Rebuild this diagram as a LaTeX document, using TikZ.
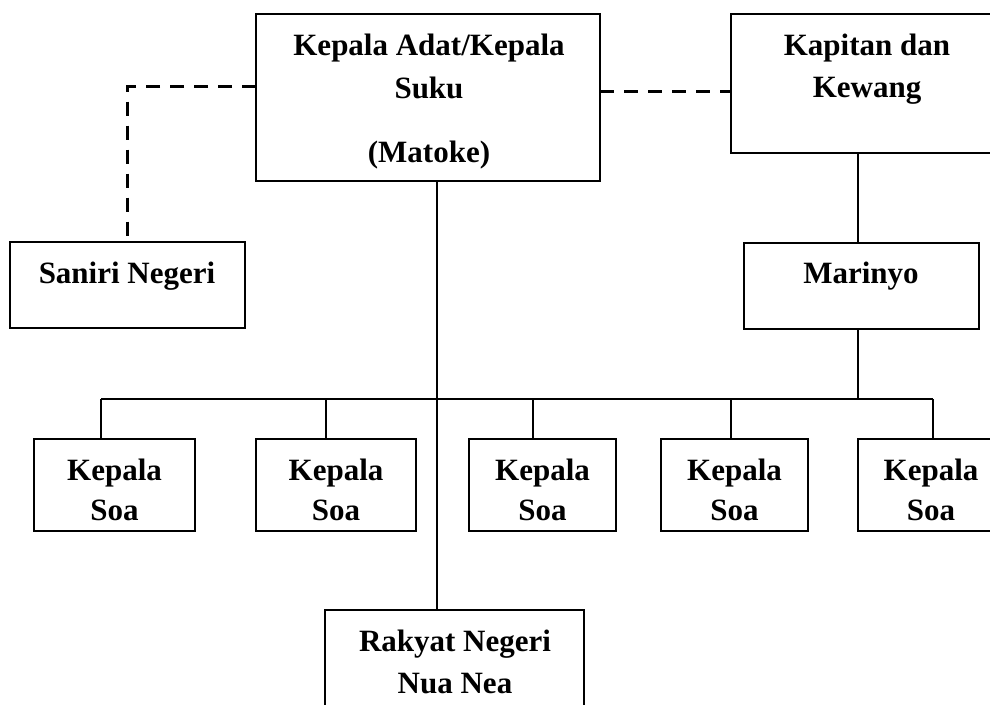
\documentclass[tikz,border=0pt]{standalone}
\usepackage{fontspec}
\setmainfont{Liberation Serif}
\begin{document}
\begin{tikzpicture}[x=1pt,y=-1pt,
  box/.style={draw,line width=1.8pt,inner sep=0pt,outer sep=0pt,anchor=north west},
  lbl/.style={anchor=base,inner sep=0pt,font=\fontsize{31}{40}\selectfont\bfseries},
  conn/.style={line width=1.6pt},
  dline/.style={line width=3pt,dash pattern=on 14pt off 10pt}]
\useasboundingbox (0,0) rectangle (990,704);
\clip (0,0) rectangle (990,704);
% boxes
\node[box,minimum width=344pt,minimum height=167pt] (adat) at (256,14) {};
\node[box,minimum width=272pt,minimum height=139pt] (kapitan) at (731,14) {};
\node[box,minimum width=235pt,minimum height=86pt] (saniri) at (10,242) {};
\node[box,minimum width=235pt,minimum height=86pt] (marinyo) at (744,243) {};
\node[box,minimum width=161pt,minimum height=92pt] (soa1) at (34,439) {};
\node[box,minimum width=160pt,minimum height=92pt] (soa2) at (256,439) {};
\node[box,minimum width=147pt,minimum height=92pt] (soa3) at (469,439) {};
\node[box,minimum width=147pt,minimum height=92pt] (soa4) at (661,439) {};
\node[box,minimum width=146pt,minimum height=92pt] (soa5) at (858,439) {};
\node[box,minimum width=259pt,minimum height=120pt] (rakyat) at (325,610) {};
% texts
\node[lbl] (t1) at (429,55) {Kepala Adat/Kepala};
\node[lbl] (t2) at (429,98) {Suku};
\node[lbl] (t3) at (429,162) {(Matoke)};
\node[lbl] (t4) at (867,55) {Kapitan dan};
\node[lbl] (t5) at (867,97) {Kewang};
\node[lbl] (t6) at (127,283) {Saniri Negeri};
\node[lbl] (t7) at (861,283) {Marinyo};
\foreach \n/\c in {1/114.5,2/336,3/542.5,4/734.5,5/931}{
  \node[lbl] (k\n) at (\c,480) {Kepala};
  \node[lbl] (s\n) at (\c,520) {Soa};
}
\node[lbl] (t8) at (455,651) {Rakyat Negeri};
\node[lbl] (t9) at (455,693) {Nua Nea};
% connectors
\coordinate (bus) at (0,399);
\draw[conn] ([xshift=9pt]adat.south) coordinate (a) -- (a |- rakyat.north);
\draw[conn] ([xshift=-13.5pt]soa1.north) coordinate (d1) -- (d1 |- bus);
\draw[conn] ([xshift=-10pt]soa2.north) coordinate (d2) -- (d2 |- bus);
\draw[conn] ([xshift=-9.5pt]soa3.north) coordinate (d3) -- (d3 |- bus);
\draw[conn] ([xshift=-3.5pt]soa4.north) coordinate (d4) -- (d4 |- bus);
\draw[conn] ([xshift=2pt]soa5.north) coordinate (d5) -- (d5 |- bus);
\draw[conn] (d1 |- bus) -- (d5 |- bus);
\draw[conn] ([xshift=-3.5pt]marinyo.south) coordinate (m1) -- (m1 |- bus);
\draw[conn] ([xshift=-3.5pt]marinyo.north) coordinate (m2) -- (m2 |- kapitan.south);
\draw[dline] ([yshift=11.5pt]adat.west) -| (saniri.north);
\draw[dline] ([yshift=6.5pt]adat.east) coordinate (r) -- (r -| kapitan.west);
\end{tikzpicture}
\end{document}
